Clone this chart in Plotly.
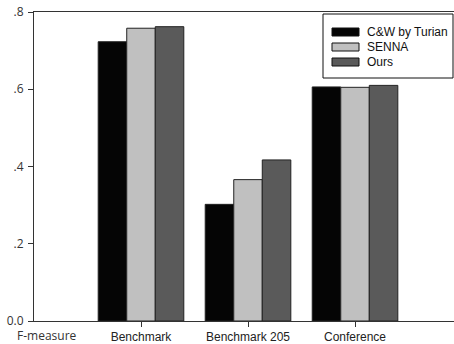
import plotly.graph_objects as go

categories = ["Benchmark", "Benchmark 205", "Conference"]
series_names = ["C&W by Turian", "SENNA", "Ours"]
cw_turian = [0.723, 0.302, 0.606]
senna = [0.758, 0.366, 0.605]
ours = [0.762, 0.417, 0.610]
series_values = [cw_turian, senna, ours]
series_colors = ["#050505", "#c0c0c0", "#5a5a5a"]
y_tick_vals = [0.0, 0.2, 0.4, 0.6, 0.8]
y_tick_text = ["0.0", ".2", ".4", ".6", ".8"]
x_axis_label = "F-measure"

W, H = 454, 344
ML, MR, MT, MB = 34, 0, 12, 23
PW, PH = W - ML - MR, H - MT - MB


def px(xp):
    return (xp - ML) / PW


def py(yp):
    return (H - MB - yp) / PH


fig = go.Figure()
xpos = list(range(1, len(categories) + 1))
for name, vals, col in zip(series_names, series_values, series_colors):
    fig.add_trace(go.Bar(
        x=xpos, y=vals, name=name,
        marker=dict(color=col, line=dict(color="#222222", width=1)),
        showlegend=False, hoverinfo="skip",
    ))

# custom legend box
fig.add_shape(type="rect", xref="paper", yref="paper",
              x0=px(323), x1=px(453), y0=py(78), y1=py(14),
              line=dict(color="#111111", width=1), fillcolor="white", layer="above")
for i, (name, col) in enumerate(zip(series_names, series_colors)):
    cy = 32 + 15 * i
    fig.add_shape(type="rect", xref="paper", yref="paper",
                  x0=px(332), x1=px(359), y0=py(cy + 4), y1=py(cy - 4),
                  line=dict(color="#111111", width=1), fillcolor=col, layer="above")
    fig.add_annotation(xref="paper", yref="paper", x=px(365), y=py(cy),
                       text=name, showarrow=False, xanchor="left", yanchor="middle",
                       font=dict(family="Liberation Sans, Arial", size=12, color="#111111"))

fig.add_annotation(xref="paper", yref="paper", x=px(47), y=py(335.5),
                   text=x_axis_label, showarrow=False, xanchor="center", yanchor="middle",
                   borderpad=0,
                   font=dict(family="Open Sans", size=12, color="#333333"))

fig.update_layout(
    width=W, height=H,
    margin=dict(l=ML, r=MR, t=MT, b=MB, pad=0, autoexpand=False),
    paper_bgcolor="white", plot_bgcolor="white",
    barmode="group", bargap=0.2, bargroupgap=0,
    showlegend=False,
)
fig.update_xaxes(
    range=[0, 3.925], tickvals=xpos, ticktext=categories,
    ticks="outside", ticklen=5, tickcolor="#333333", tickwidth=1,
    showline=True, linecolor="#333333", linewidth=1, mirror=True,
    showgrid=False, zeroline=False, automargin=False,
    tickfont=dict(family="Liberation Sans, Arial", size=12, color="#222222"),
)
fig.update_yaxes(
    range=[0, 0.8], tickvals=y_tick_vals, ticktext=y_tick_text,
    ticks="outside", ticklen=5, tickcolor="#333333", tickwidth=1,
    showline=True, linecolor="#333333", linewidth=1, mirror=False,
    showgrid=False, zeroline=False, ticklabelstandoff=2, automargin=False,
    tickfont=dict(family="Open Sans", size=12, color="#333333"),
)

fig.write_html("out.html", config={"displayModeBar": False},
               post_script="document.body.style.margin='0';document.body.style.overflow='hidden';")
